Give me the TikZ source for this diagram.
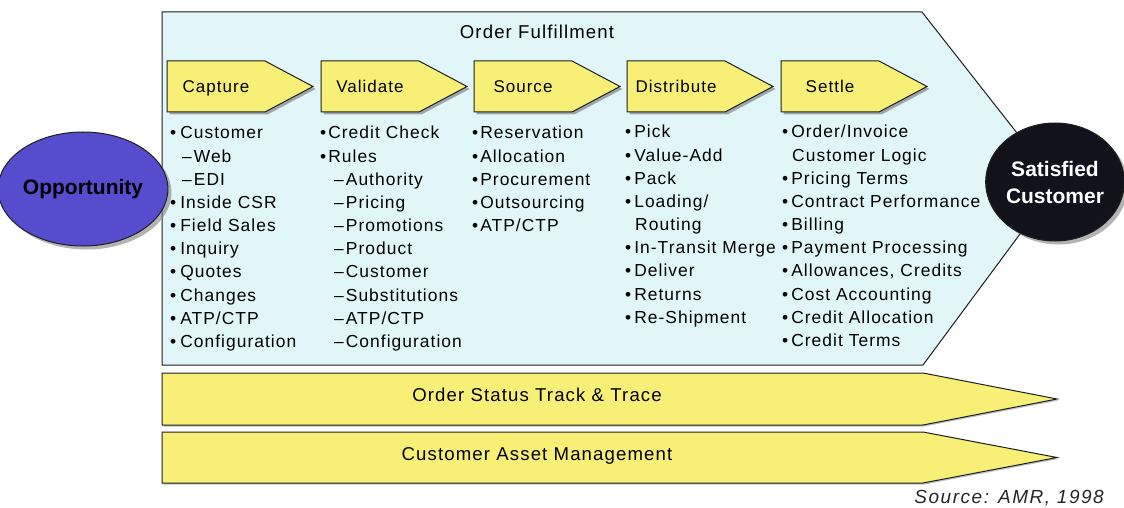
\documentclass[tikz,border=0pt]{standalone}
\usepackage{fontspec}
\setmainfont{Liberation Sans}
\newfontfamily\lsfont{Liberation Sans}[LetterSpace=6]
\newfontfamily\wideitfont{Liberation Sans Italic}[LetterSpace=8]
\usetikzlibrary{shadows,shapes.geometric}
\definecolor{bgcyan}{RGB}{224,246,248}
\definecolor{stageyellow}{RGB}{248,240,118}
\definecolor{oppblue}{RGB}{86,76,206}
\definecolor{satblack}{RGB}{18,18,28}
\definecolor{edgecol}{RGB}{30,30,30}
\tikzset{
  shapeline/.style={draw=edgecol, line width=1pt, line join=miter},
  softshadow/.style={drop shadow={shadow xshift=2.5pt, shadow yshift=-2.5pt, fill=black!55, opacity=0.6}},
  stageshape/.style={shapeline, fill=stageyellow, softshadow},
  barshape/.style={shapeline, fill=stageyellow, drop shadow={shadow xshift=1.5pt, shadow yshift=-1.5pt, fill=black!50, opacity=0.5}},
  bigshape/.style={shapeline, fill=bgcyan},
  stagelabel/.style={font={\lsfont\fontsize{17}{20}\selectfont}, inner sep=0pt, anchor=base},
  item/.style={font={\lsfont\fontsize{17.4}{20}\selectfont}, inner sep=0pt, anchor=base west},
  bartext/.style={font={\lsfont\fontsize{18.6}{22}\selectfont}, inner sep=0pt, anchor=base},
  bubble/.style={ellipse, draw=edgecol, line width=1pt, inner sep=0pt, drop shadow={shadow xshift=3.5pt, shadow yshift=-3.5pt, fill=black!50, opacity=0.6}},
}
\begin{document}
\begin{tikzpicture}[x=1pt, y=-1pt]
\useasboundingbox (0,0) rectangle (1124,508);

% Order fulfillment pentagon
\path[bigshape] (162,12) -- (922,12) -- (1057,184) -- (923,365) -- (162,365) -- cycle;
\node[bartext] (title) at (537,39) {Order Fulfillment};

% stage arrows
\foreach \x/\lab/\nm in {167/Capture/capture, 321/Validate/validate, 474/Source/source, 627/Distribute/distribute, 781/Settle/settle}{
  \path[stageshape] (\x,61) -- ({\x+98},61) -- ({\x+146},86.5) -- ({\x+98},112) -- (\x,112) -- cycle;
  \node[stagelabel] (\nm) at ({\x+49},93) {\lab};
}

% Capture column
\foreach \dx/\t [count=\i from 0] in {0/{•\hspace{4pt}Customer}, 12/{–\hspace{2pt}Web}, 12/{–\hspace{2pt}EDI}, 0/{•\hspace{4pt}Inside CSR}, 0/{•\hspace{4pt}Field Sales}, 0/{•\hspace{4pt}Inquiry}, 0/{•\hspace{4pt}Quotes}, 0/{•\hspace{4pt}Changes}, 0/{•\hspace{4pt}ATP/CTP}, 0/{•\hspace{4pt}Configuration}}{
  \node[item] (cap-\i) at ({170+\dx},{139+23.15*\i}) {\t};
}
% Validate column
\foreach \dx/\t [count=\i from 0] in {0/{•\hspace{2pt}Credit Check}, 0/{•\hspace{2pt}Rules}, 14/{–\hspace{2pt}Authority}, 14/{–\hspace{2pt}Pricing}, 14/{–\hspace{2pt}Promotions}, 14/{–\hspace{2pt}Product}, 14/{–\hspace{2pt}Customer}, 14/{–\hspace{2pt}Substitutions}, 14/{–\hspace{2pt}ATP/CTP}, 14/{–\hspace{2pt}Configuration}}{
  \node[item] (val-\i) at ({320+\dx},{139+23.15*\i}) {\t};
}
% Source column
\foreach \dx/\t [count=\i from 0] in {0/{•\hspace{2pt}Reservation}, 0/{•\hspace{2pt}Allocation}, 0/{•\hspace{2pt}Procurement}, 0/{•\hspace{2pt}Outsourcing}, 0/{•\hspace{2pt}ATP/CTP}}{
  \node[item] (src-\i) at ({472+\dx},{139+23.15*\i}) {\t};
}
% Distribute column
\foreach \dx/\t [count=\i from 0] in {0/{•\hspace{3pt}Pick}, 0/{•\hspace{3pt}Value-Add}, 0/{•\hspace{3pt}Pack}, 0/{•\hspace{3pt}Loading/}, 10/{Routing}, 0/{•\hspace{3pt}In-Transit Merge}, 0/{•\hspace{3pt}Deliver}, 0/{•\hspace{3pt}Returns}, 0/{•\hspace{3pt}Re-Shipment}}{
  \node[item] (dst-\i) at ({625+\dx},{138+23.15*\i}) {\t};
}
% Settle column
\foreach \dx/\t [count=\i from 0] in {0/{•\hspace{3pt}Order/Invoice}, 10/{Customer Logic}, 0/{•\hspace{3pt}Pricing Terms}, 0/{•\hspace{3pt}Contract Performance}, 0/{•\hspace{3pt}Billing}, 0/{•\hspace{3pt}Payment Processing}, 0/{•\hspace{3pt}Allowances, Credits}, 0/{•\hspace{3pt}Cost Accounting}, 0/{•\hspace{3pt}Credit Allocation}, 0/{•\hspace{3pt}Credit Terms}}{
  \node[item] (stl-\i) at ({782+\dx},{138+23.15*\i}) {\t};
}

% bottom bars
\path[barshape] (162,373) -- (923,373) -- (1057,399) -- (923,425) -- (162,425) -- cycle;
\node[bartext] (track) at (537,401) {Order Status Track \& Trace};
\path[barshape] (162,432) -- (923,432) -- (1057,457.5) -- (923,483) -- (162,483) -- cycle;
\node[bartext] (asset) at (537,460) {Customer Asset Management};

% circles
\node[bubble, fill=oppblue, minimum width=140pt, minimum height=114pt,
      font=\bfseries\fontsize{21}{24}\selectfont, text=black] (opp) at (83,189) {Opportunity};
\node[bubble, fill=satblack, minimum width=136pt, minimum height=118pt, align=center,
      font=\bfseries\fontsize{21}{27}\selectfont, text=white] (sat) at (1055,182) {Satisfied\\Customer};

% source
\node[anchor=base east, inner sep=0pt, font={\wideitfont\fontsize{19}{22}\selectfont}, text=black!85] (srcnote) at (1104,503) {Source: AMR, 1998};
\end{tikzpicture}
\end{document}
